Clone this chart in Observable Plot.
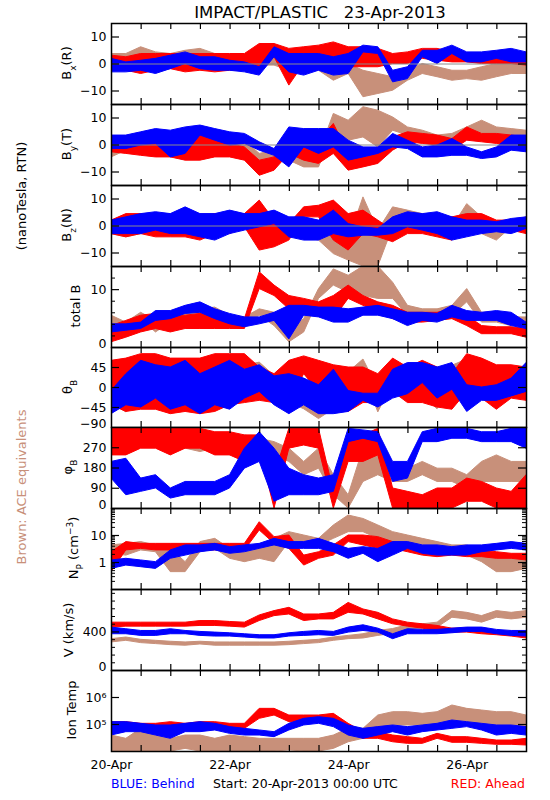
<!DOCTYPE html>
<html><head><meta charset="utf-8">
<script src="https://cdn.jsdelivr.net/npm/d3@7"></script>
<script src="https://cdn.jsdelivr.net/npm/@observablehq/plot@0.6"></script>
<style>
body{margin:0;background:#fff;}
#chart{position:relative;width:550px;height:800px;font-family:"DejaVu Sans",sans-serif;}
#chart svg{position:absolute;left:0;}
</style></head><body><div id="chart"></div>
<script>
// sample times, hours after 20-Apr-2013 00:00 UTC
const hours = [0,6,12,18,24,30,36,42,48,54,60,66,72,78,84,90,96,102,108,114,120,126,132,138,144,150,156,162,168];
const xTickHours = [12,24,36,48,60,72,84,96,108,120,132,144,156];
const xLabelHours = [0,48,96,144];

// Bx (nT)
const bxBrownLo = [1.9,1.9,3.7,1.2,0.6,2.5,3.1,0.6,-1.2,-0.6,-0.6,-0.6,-2.5,-2.5,-2.5,-6.2,-3.7,-12.3,-11.1,-9.9,-6.2,-3.7,-4.9,-6.2,-5.6,-6.2,-4.9,-3.7,-3.7];
const bxBrownHi = [3.7,3.7,6.2,4.3,3.7,4.9,5.6,3.7,1.9,2.5,2.5,2.5,0.6,0.6,1.2,-2.5,0,-2.5,-3.7,-4.9,-2.5,0,-1.2,-2.5,-2.5,-1.2,0,0,0];
const bxRedLo = [-2.5,-2.5,-3.7,-2.5,-1.9,-3.1,-2.5,-3.1,-2.5,-2.5,-2.5,2.5,-8,0,0,1.2,-1.2,-1.2,-1.2,0,0,1.9,1.2,0.6,0.6,0,0,0,-0.6];
const bxRedHi = [3.1,2.5,3.7,3.7,3.7,3.7,3.7,3.7,3.7,3.7,7.4,7.4,5.6,6.2,6.8,8.0,6.2,6.2,5.6,3.7,4.3,5.6,5.6,4.3,3.7,3.7,3.7,3.7,3.7];
const bxBlueLo = [-3.1,-3.1,-2.5,-3.7,-1.9,0,-1.9,-2.5,-2.5,-3.1,-4.3,2.5,-3.1,-4.3,-2.5,-4.3,-3.7,4.3,3.7,-6.8,-5.6,2.5,0,3.7,0.6,0.6,1.9,0.6,0.6];
const bxBlueHi = [1.9,0.6,1.2,1.9,3.1,4.3,2.5,2.5,1.2,0.6,-1.2,6.2,3.7,3.7,3.7,2.5,3.7,6.8,6.2,-2.5,-1.2,4.9,4.9,6.8,4.3,4.3,4.9,5.6,4.3];
// By (nT)
const byBrownLo = [-4.6,-2.1,-1.5,-1.5,-0.9,-1.5,-0.9,0.4,1.0,-3.3,-5.8,-4.6,-5.8,-8.3,-8.3,5.3,1.6,2.8,-0.9,5.3,3.5,1.6,-0.9,0.4,2.8,4.1,2.8,2.8,2.2];
const byBrownHi = [-2.1,0.4,1.0,1.6,2.8,2.2,2.2,3.5,4.1,1.6,-3.3,-2.1,-0.9,-4.6,-3.3,11.5,9.0,14,12.7,10.2,6.5,5.3,3.5,4.1,6.5,9.0,6.5,5.9,5.3];
const byRedLo = [-2.7,-3.3,-4.0,-4.6,-4.6,-5.8,-5.8,-4.6,-4.6,-5.8,-11.4,-9.5,-3.3,-5.8,-7.0,-3.3,-9.5,-8.3,-7.0,-2.1,1.0,0.4,-0.2,-2.1,1.6,1.0,0.4,-0.2,-2.1];
const byRedHi = [2.2,1.6,0.4,0.4,2.8,0.4,4.1,2.8,0.4,-0.9,-5.8,-4.6,5.3,4.1,1.6,7.8,-3.3,-4.6,-3.3,2.8,4.7,4.1,3.5,2.2,6.5,4.1,4.1,3.5,2.8];
const byBlueLo = [-1.5,-1.5,-0.2,0.4,-4.6,-3.3,3.5,1.6,-0.2,0.4,-2.1,-4.0,-8.3,-0.9,-3.3,-0.9,-5.8,-4.6,-3.3,-0.9,-1.5,-4.6,-4.6,-4.0,-4.0,-5.2,-4.6,-2.1,-2.7];
const byBlueHi = [3.5,3.5,4.7,5.9,5.3,6.5,7.2,5.9,4.7,4.1,1.0,-1.5,6.5,5.9,5.9,5.9,1.6,-0.9,-0.9,4.1,1.6,-0.9,-0.2,2.2,-0.9,-2.7,-0.9,3.5,3.5];
// Bz (nT)
const bzBrownLo = [-3.0,-4.2,-3.0,-0.5,2.0,0.7,2.0,-0.5,-0.5,2.0,-0.5,-1.7,-4.2,-4.2,-5.4,-10.4,-12.8,-15,-15,-0.5,2.0,0.7,-3.0,-5.4,2.0,-3.0,-5.4,-0.5,-0.5];
const bzBrownHi = [0.7,2.0,4.4,4.4,4.4,4.4,4.4,4.4,4.4,4.4,3.2,2.0,-0.5,0.7,0.7,-3.0,-5.4,10.6,-1.7,6.9,5.7,4.4,3.2,-0.5,8.1,3.2,-0.5,2.0,3.2];
const bzRedLo = [-3.0,-4.2,-3.0,-4.2,-4.2,-4.2,-5.4,-3.0,-3.0,-0.5,-9.1,-7.9,-5.4,3.2,3.2,-5.4,-9.1,-3.0,-4.2,-6.0,-3.0,-3.0,-4.2,-5.4,0.7,-0.5,-1.7,-1.7,-3.0];
const bzRedHi = [2.0,4.4,4.4,3.2,3.2,4.4,3.2,4.4,4.4,4.4,9.4,2.0,0.7,6.9,7.5,9.4,4.4,5.7,2.0,-1.7,3.2,2.6,3.2,3.2,4.4,4.4,2.0,2.0,2.0];
const bzBlueLo = [-3.0,-3.0,-3.0,-1.7,-3.0,-3.0,-4.2,-5.4,-3.0,-1.7,-0.5,0.7,-4.2,-5.4,-5.4,-3.0,-4.2,-3.6,-3.6,-3.0,-0.5,-1.7,-3.0,-5.4,-4.2,-3.0,-2.3,-3.0,-1.1];
const bzBlueHi = [2.0,3.2,4.4,5.1,4.4,6.9,4.4,4.4,5.7,4.4,4.4,5.7,3.2,3.2,2.0,5.7,0.7,-0.5,-1.1,3.2,5.1,4.4,5.1,3.2,2.0,2.0,1.4,2.6,3.2];
// total B (nT)
const btBrownLo = [3.7,3.2,4.9,2.6,4.3,5.5,5.5,5.5,3.7,3.7,5.5,3.7,0.9,2.6,8.4,10.7,9.5,8.9,8.4,8.4,5.5,4.9,4.9,5.5,7.8,4.3,4.3,3.7,3.7];
const btBrownHi = [5.5,4.3,6.0,4.6,5.5,6.6,6.6,6.9,5.5,5.2,6.6,6.0,3.2,4.9,10.1,13.5,12.4,14,14,11.2,7.2,6.6,6.6,7.2,10.1,6.0,6.0,5.2,5.2];
const btRedLo = [0.9,1.7,2.6,3.2,2.6,3.2,3.2,3.2,3.2,3.2,10.1,8.9,6.6,7.2,6.6,4.9,8.4,7.2,6.3,4.9,4.3,4.3,4.6,4.9,3.7,2.3,2.3,2.3,1.7];
const btRedHi = [3.7,4.6,5.5,5.8,5.5,5.5,5.8,5.5,5.2,4.9,13.0,10.7,8.9,8.4,7.8,8.9,10.7,8.9,7.8,7.2,6.0,6.0,6.0,6.6,5.5,3.7,3.5,3.5,3.2];
const btBlueLo = [2.6,2.9,3.2,4.6,4.9,5.8,6.0,4.9,4.0,3.5,4.0,4.6,1.4,5.5,5.2,4.3,4.3,5.5,5.5,4.9,3.7,4.6,4.3,5.2,4.6,4.6,4.6,3.7,3.2];
const btBlueHi = [4.0,4.0,4.3,6.3,6.3,7.2,7.8,6.6,5.8,5.2,5.2,6.0,7.2,7.2,6.9,6.9,6.6,6.9,7.2,6.6,6.0,6.0,5.8,7.2,6.3,6.0,6.3,6.0,4.3];
// theta_B (deg)
const thBrownLo = [-34,-56,-11,-4,19,26,19,26,11,11,19,-11,-34,-49,-71,-49,-4,34,-56,11,-4,-19,-49,11,26,11,-4,-4,4];
const thBrownHi = [4,-19,34,34,56,56,41,56,41,49,56,26,11,-19,-34,-4,34,63,-4,49,26,19,-11,49,63,41,26,26,34];
const thRedLo = [-40,-55,-50,-50,-60,-55,-60,-55,-40,-35,-30,-35,-35,30,-10,-50,-55,-35,-35,-10,-35,-35,-45,-50,-10,-25,-50,-25,-30];
const thRedHi = [60,65,75,75,65,65,65,75,75,75,45,30,60,70,60,50,45,45,30,65,45,60,45,30,75,65,50,50,45];
const thBlueLo = [-60,-40,-45,-25,-50,-40,-60,-40,-50,-25,-10,-40,-60,-40,-60,-60,-55,-30,-45,-25,-15,10,-25,-5,-55,-30,-30,-20,-10];
const thBlueHi = [-8,30,60,50,45,60,30,45,60,40,50,25,30,20,5,40,-8,-14,-14,40,55,55,45,55,5,0,5,20,55];
// phi_B (deg)
const phBrownLo = [266,266,310,295,266,266,251,266,236,266,266,236,207,148,177,59,0,118,148,118,118,148,118,118,89,118,118,118,118];
const phBrownHi = [339,354,354,339,339,325,310,310,295,325,310,295,266,207,266,148,59,266,236,177,177,207,177,177,148,207,236,207,207];
const phRedLo = [236,236,266,266,236,266,266,236,236,207,266,0,266,280,266,0,207,207,236,0,0,0,0,0,30,30,0,0,0];
const phRedHi = [354,354,354,354,354,354,354,339,339,325,325,148,354,354,354,74,325,325,354,89,74,59,89,89,133,118,89,74,148];
const phBlueLo = [133,59,74,89,44,59,59,59,89,177,207,30,59,59,59,74,295,310,295,118,133,295,295,310,310,295,295,295,266];
const phBlueHi = [207,221,133,148,89,118,118,118,148,266,339,266,177,148,133,148,354,347,339,207,207,339,354,354,354,339,339,354,354];
// Np (cm^-3)
const npBrownLo = [2.1,1.8,2.8,2.4,0.44,0.44,2.4,3.2,1.37,1.03,1.37,1.03,5.7,4.3,4.3,7.5,13.3,13.3,7.5,5.7,4.3,3.2,2.4,2.4,1.8,1.03,0.44,0.44,0.58];
const npBrownHi = [4.3,4.9,5.7,4.3,3.2,1.03,5.7,7.5,3.2,2.4,3.2,7.5,13.3,10,7.5,23.5,55,41,23.5,13.3,10,7.5,5.7,4.3,4.3,2.4,1.8,1.37,1.8];
const npRedLo = [0.44,2.8,3.2,2.8,2.8,2.8,2.8,2.8,2.8,2.8,15.3,4.9,3.2,0.77,1.37,1.8,5.7,4.3,3.2,3.2,2.4,1.8,1.58,1.8,1.58,1.58,1.37,1.37,1.19];
const npRedHi = [2.4,5.7,4.9,4.9,4.9,4.9,4.9,4.9,4.9,4.9,31,8.7,10,1.8,2.4,4.3,10,10,8.7,5.7,4.3,3.7,3.2,3.2,3.2,2.8,2.4,2.1,2.1];
const npBlueLo = [0.58,0.77,0.67,0.58,1.37,1.8,2.4,2.8,2.1,2.4,3.2,4.3,3.2,3.2,3.2,2.4,1.37,2.1,1.03,1.8,3.2,2.1,1.8,1.8,1.8,2.4,2.8,3.2,2.8];
const npBlueHi = [1.19,1.37,1.19,1.03,2.8,4.3,4.3,4.9,3.7,4.3,4.9,7.5,5.7,5.7,7.5,4.9,3.2,3.7,3.2,5.7,5.7,4.3,4.3,3.7,4.3,4.3,4.9,5.7,4.9];
// V (km/s)
const vBrownLo = [291,308,284,274,263,257,270,257,257,257,257,257,263,274,284,308,325,332,359,380,421,434,445,547,530,496,547,530,547];
const vBrownHi = [325,342,318,308,298,291,298,291,291,291,291,291,298,308,318,342,359,376,410,430,469,479,496,616,598,564,616,598,616];
const vRedLo = [445,455,455,455,455,455,462,462,455,445,513,564,581,513,530,530,598,581,530,479,455,434,410,393,393,376,366,352,332];
const vRedHi = [496,496,496,496,496,496,513,513,503,496,571,616,650,581,581,598,701,633,598,530,496,479,462,434,434,421,410,400,376];
const vBlueLo = [376,376,359,359,376,376,359,352,352,342,332,332,352,359,366,359,393,410,393,325,376,376,376,386,400,400,376,359,352];
const vBlueHi = [445,428,410,410,428,410,400,393,386,376,366,366,386,400,410,400,445,469,434,376,428,421,421,434,445,445,421,410,410];
// Ion temperature (K)
const tBrownLo = [1e4,1e4,1e4,1e4,1e4,1.25e4,1e4,1e4,1e4,1e4,1e4,1e4,1.1e4,1e4,1e4,1.25e4,2.2e4,2.95e4,5.2e4,9.2e4,9.2e4,9.2e4,9.2e4,1.22e5,1.22e5,9.2e4,9.2e4,9.2e4,6.9e4];
const tBrownHi = [3.9e4,2.95e4,6.9e4,3.9e4,2.95e4,3.9e4,3.9e4,2.95e4,3.9e4,3.4e4,2.95e4,2.95e4,2.95e4,2.95e4,2.95e4,3.9e4,6.9e4,6.9e4,2.15e5,2.86e5,2.86e5,2.48e5,2.86e5,5.06e5,3.8e5,3.3e5,2.86e5,2.86e5,2.15e5];
const tRedLo = [5.2e4,6.9e4,6.9e4,6.9e4,8.0e4,6.9e4,8.0e4,6.9e4,6.9e4,6.9e4,1.62e5,2.15e5,1.22e5,1.22e5,1.22e5,1.22e5,5.2e4,2.95e4,2.95e4,2.2e4,1.92e4,1.92e4,2.95e4,2.1e4,2.1e4,1.92e4,1.77e4,1.77e4,1.67e4];
const tRedHi = [1.22e5,1.22e5,1.06e5,1.06e5,1.22e5,1.06e5,1.22e5,1.22e5,1.06e5,1.06e5,3.8e5,3.8e5,2.15e5,2.15e5,2.15e5,2.48e5,1.06e5,5.2e4,5.2e4,3.9e4,3.4e4,2.95e4,4.5e4,3.4e4,3.4e4,2.95e4,2.55e4,2.55e4,2.95e4];
const tBlueLo = [3.9e4,5.2e4,5.2e4,3.9e4,2.95e4,5.2e4,5.2e4,6.0e4,4.5e4,3.9e4,3.9e4,3.4e4,6.0e4,9.2e4,1.06e5,8.0e4,3.9e4,2.95e4,3.9e4,5.2e4,3.9e4,5.2e4,6.0e4,6.9e4,8.0e4,6.0e4,3.9e4,4.5e4,3.9e4];
const tBlueHi = [1.22e5,1.22e5,1.06e5,9.2e4,9.2e4,1.06e5,1.22e5,1.06e5,8.0e4,6.9e4,6.0e4,5.2e4,1.06e5,1.62e5,1.87e5,1.62e5,9.2e4,6.9e4,8.0e4,9.2e4,8.0e4,9.2e4,1.06e5,1.41e5,1.22e5,1.06e5,9.2e4,9.2e4,8.0e4];

// axis ticks
const bTicks = [-10,0,10];
const btMajor = [10], btMinor = [2,4,6,8,12];
const thTicks = [-45,0,45], thLabels = [-45,0,45], thBottom = [-90];
const phTicks = [90,180,270], phLabels = [90,180,270], phBottom = [0];
const npMajor = [1,10];
const npMinor = [0.2,0.3,0.4,0.5,0.6,0.7,0.8,0.9,2,3,4,5,6,7,8,9,20,30,40,50,60,70,80,90];
const vMajor = [400], vMinor = [80,160,240,320,480,560,640,720,800];
const tMajor = [1e5,1e6];

const colors = {brown: "#c8907a", red: "#ff0000", blue: "#0000ff"};
const W = 550, ML = 111, MR = 24, PAD = 2;
const start = Date.UTC(2013, 3, 20);
const toDate = h => new Date(start + h * 3600e3);
const xDomain = [toDate(0), toDate(168)];
const xTicks = xTickHours.map(toDate);
const chart = document.getElementById("chart");
const sup = {"5": "\u2075", "6": "\u2076"};

function rows(lo, hi) { return hours.map((h, i) => ({t: toDate(h), lo: lo[i], hi: hi[i]})); }

const panels = [
  {top: 23, h: 81, y: {domain: [-15, 15]}, zero: true, major: bTicks, labels: bTicks,
   series: [["brown", bxBrownLo, bxBrownHi], ["red", bxRedLo, bxRedHi], ["blue", bxBlueLo, bxBlueHi]]},
  {top: 104, h: 81, y: {domain: [-15, 15]}, zero: true, major: bTicks, labels: bTicks,
   series: [["brown", byBrownLo, byBrownHi], ["red", byRedLo, byRedHi], ["blue", byBlueLo, byBlueHi]]},
  {top: 185, h: 81, y: {domain: [-15, 15]}, zero: true, major: bTicks, labels: bTicks,
   series: [["brown", bzBrownLo, bzBrownHi], ["red", bzRedLo, bzRedHi], ["blue", bzBlueLo, bzBlueHi]]},
  {top: 266, h: 81, y: {domain: [0, 14]}, major: btMajor, minor: btMinor, labels: [10], bottom: [0],
   series: [["brown", btBrownLo, btBrownHi], ["red", btRedLo, btRedHi], ["blue", btBlueLo, btBlueHi]]},
  {top: 347, h: 80, y: {domain: [-90, 90]}, major: thTicks, labels: thLabels, bottom: thBottom,
   series: [["brown", thBrownLo, thBrownHi], ["red", thRedLo, thRedHi], ["blue", thBlueLo, thBlueHi]]},
  {top: 427, h: 81, y: {domain: [0, 360]}, major: phTicks, labels: phLabels, bottom: phBottom,
   series: [["brown", phBrownLo, phBrownHi], ["red", phRedLo, phRedHi], ["blue", phBlueLo, phBlueHi]]},
  {top: 508, h: 81, y: {type: "log", domain: [0.1, 100]}, major: npMajor, minor: npMinor, labels: npMajor,
   series: [["brown", npBrownLo, npBrownHi], ["red", npRedLo, npRedHi], ["blue", npBlueLo, npBlueHi]]},
  {top: 589, h: 81, y: {domain: [0, 840]}, major: vMajor, minor: vMinor, labels: vMajor, bottom: [0],
   series: [["brown", vBrownLo, vBrownHi], ["red", vRedLo, vRedHi], ["blue", vBlueLo, vBlueHi]]},
  {top: 670, h: 81, y: {type: "log", domain: [1e4, 1e7]}, major: tMajor, labels: tMajor,
   fmt: d => "10" + sup[String(Math.round(Math.log10(d)))], xLabels: true,
   series: [["brown", tBrownLo, tBrownHi], ["red", tRedLo, tRedHi], ["blue", tBlueLo, tBlueHi]]}
];

const iw = W - ML - MR;
for (const p of panels) {
  const extra = p.xLabels ? 28 : 0;
  const marks = [];
  for (const [name, lo, hi] of p.series) {
    marks.push(Plot.areaY(rows(lo, hi), {x: "t", y1: "lo", y2: "hi", fill: colors[name], stroke: colors[name], strokeWidth: 1, clip: true}));
  }
  if (p.zero) marks.push(Plot.ruleY([0], {stroke: "#8c8c8c", strokeWidth: 1}));
  marks.push(Plot.tickY(p.major, {y: d => d, insetRight: iw - 8, strokeWidth: 1.2}));
  marks.push(Plot.tickY(p.major, {y: d => d, insetLeft: iw - 8, strokeWidth: 1.2}));
  if (p.minor) {
    marks.push(Plot.tickY(p.minor, {y: d => d, insetRight: iw - 4, strokeWidth: 1}));
    marks.push(Plot.tickY(p.minor, {y: d => d, insetLeft: iw - 4, strokeWidth: 1}));
  }
  marks.push(Plot.tickX(xTicks, {x: d => d, insetBottom: p.h - 6, strokeWidth: 1.2}));
  marks.push(Plot.tickX(xTicks, {x: d => d, insetTop: p.h - 6, strokeWidth: 1.2}));
  marks.push(Plot.frame({strokeWidth: 1.5}));
  marks.push(Plot.axisY(p.labels, {anchor: "left", label: null, tickSize: 0, tickPadding: 5, fontSize: 12.5, tickFormat: p.fmt ?? (d => String(d).replace("-", "\u2212"))}));
  if (p.bottom) marks.push(Plot.axisY(p.bottom, {anchor: "left", label: null, tickSize: 0, tickPadding: 5, fontSize: 12.5, dy: -4, tickFormat: d => String(d).replace("-", "\u2212")}));
  if (p.xLabels) marks.push(Plot.axisX(xLabelHours.map(toDate), {anchor: "bottom", label: null, tickSize: 0, tickPadding: 9, fontSize: 12.5, tickFormat: d3.utcFormat("%d-%b")}));
  const svg = Plot.plot({
    width: W, height: p.h + 2 * PAD + extra,
    marginLeft: ML, marginRight: MR, marginTop: PAD, marginBottom: PAD + extra,
    x: {type: "utc", domain: xDomain, axis: null, label: null},
    y: {...p.y, axis: null, label: null},
    style: {background: "transparent", overflow: "visible", fontFamily: "DejaVu Sans", fontSize: "12.5px", color: "black"},
    marks
  });
  svg.style.top = (p.top - PAD) + "px";
  chart.appendChild(svg);
}

// text annotations
const ov = d3.select(chart).append("svg").attr("width", W).attr("height", 800)
  .style("top", "0px").style("pointer-events", "none")
  .attr("font-family", "DejaVu Sans");
ov.append("text").attr("x", 320).attr("y", 18).attr("text-anchor", "middle")
  .attr("font-size", 16.5).style("white-space", "pre").text("IMPACT/PLASTIC   23-Apr-2013");

const yLabels = [
  {x: 66, y: 63, parts: [["B"], ["x", "sub"], ["(R)"]]},
  {x: 66, y: 144, parts: [["B"], ["y", "sub"], ["(T)"]]},
  {x: 66, y: 225, parts: [["B"], ["z", "sub"], ["(N)"]]},
  {x: 75, y: 306, parts: [["total B"]]},
  {x: 67, y: 387, parts: [["\u03b8"], ["B", "sub"]]},
  {x: 67, y: 467, parts: [["\u03c6"], ["B", "sub"]]},
  {x: 73, y: 548, parts: [["N"], ["P", "sub"], [" (cm"], ["\u22123", "super"], [")"]]},
  {x: 68, y: 630, parts: [["V (km/s)"]]},
  {x: 71, y: 710, parts: [["Ion Temp"]]},
  {x: 21, y: 196, parts: [["(nanoTesla, RTN)"]]},
  {x: 21, y: 487, parts: [["Brown: ACE equivalents"]], fill: colors.brown}
];
for (const L of yLabels) {
  const t = ov.append("text").attr("transform", `translate(${L.x},${L.y}) rotate(-90)`)
    .attr("text-anchor", "middle").attr("dy", "0.35em").attr("font-size", 13)
    .attr("fill", L.fill || "black").style("white-space", "pre");
  for (const [s, shift] of L.parts) {
    const ts = t.append("tspan").text(s);
    if (shift) ts.attr("baseline-shift", shift).attr("font-size", 9);
  }
}
ov.append("text").attr("x", 111).attr("y", 788).attr("font-size", 12.5).attr("fill", colors.blue).text("BLUE: Behind");
ov.append("text").attr("x", 213).attr("y", 788).attr("font-size", 12.5).attr("fill", "black").text("Start: 20-Apr-2013 00:00 UTC");
ov.append("text").attr("x", 525).attr("y", 788).attr("font-size", 12.5).attr("text-anchor", "end").attr("fill", colors.red).text("RED: Ahead");
</script></body></html>
